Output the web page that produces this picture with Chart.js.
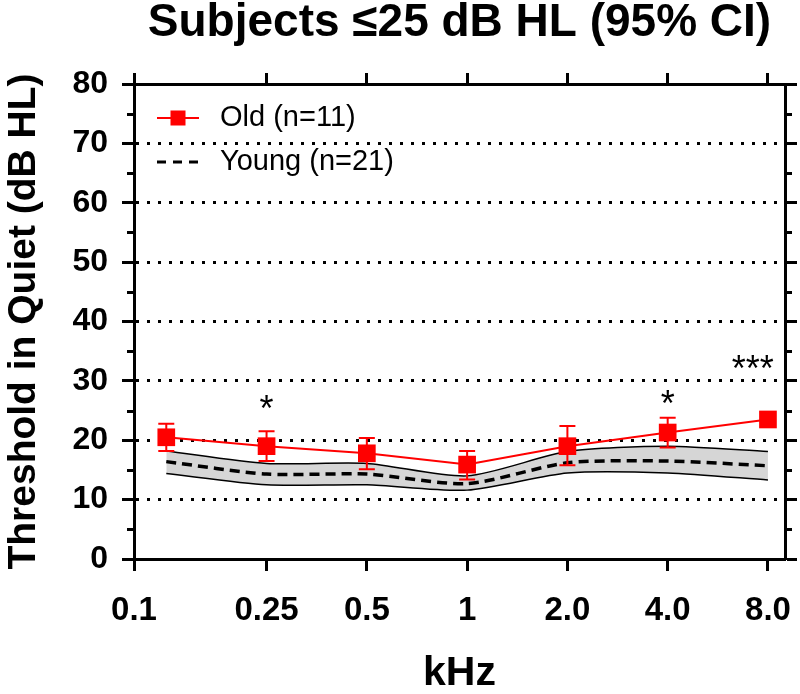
<!DOCTYPE html>
<html>
<head>
<meta charset="utf-8">
<script src="https://cdn.jsdelivr.net/npm/chart.js@4.4.0/dist/chart.umd.min.js"></script>
<style>
  html, body { margin: 0; padding: 0; background: #fff; }
</style>
</head>
<body>
<canvas id="chart" width="800" height="694"></canvas>
<script>
// audiogram values (dB HL)
var freqs = [0.125, 0.25, 0.5, 1, 2, 4, 8];
var oldMean = [20.5, 19.0, 17.8, 15.9, 19.0, 21.3, 23.5];
var oldLow = [18.2, 16.5, 15.1, 13.4, 15.8, 18.8, 22.4];
var oldHigh = [22.8, 21.5, 20.4, 18.2, 22.4, 23.8, 24.6];
var youngMean = [16.4, 14.3, 14.3, 12.7, 16.2, 16.5, 15.7];
var youngUpper = [18.2, 16.1, 16.1, 14.0, 18.1, 19.0, 18.1];
var youngLower = [14.4, 12.5, 12.5, 11.6, 14.5, 14.5, 13.3];

var xTicks = [0.1, 0.25, 0.5, 1, 2, 4, 8];
var xTickLabels = ['0.1', '0.25', '0.5', '1', '2.0', '4.0', '8.0'];

// significance marks
var sigFreqs = [0.25, 4, 7.2];
var sigLevels = [26.8, 27.6, 33.5];
var sigText = ['*', '*', '***'];

var FONT = "'Liberation Sans', Arial, sans-serif";
Chart.defaults.font.family = FONT;
Chart.defaults.color = '#000';

function pts(ys) {
  return freqs.map(function (f, i) { return { x: f, y: ys[i] }; });
}

function noPad(s) {
  s.paddingLeft = 0; s.paddingRight = 0; s.paddingTop = 0; s.paddingBottom = 0;
}

var errorBars = {
  id: 'errorBars',
  beforeDatasetDraw: function (chart, args) {
    if (args.index !== 0) return;
    var ctx = chart.ctx, xs = chart.scales.x, ys = chart.scales.y;
    ctx.save();
    ctx.strokeStyle = '#ff0000';
    ctx.lineWidth = 2;
    freqs.forEach(function (f, i) {
      var px = xs.getPixelForValue(f);
      var top = ys.getPixelForValue(oldHigh[i]);
      var bot = ys.getPixelForValue(oldLow[i]);
      ctx.beginPath();
      ctx.moveTo(px, top); ctx.lineTo(px, bot);
      ctx.moveTo(px - 8, top); ctx.lineTo(px + 8, top);
      ctx.moveTo(px - 8, bot); ctx.lineTo(px + 8, bot);
      ctx.stroke();
    });
    ctx.restore();
  }
};

var extras = {
  id: 'extras',
  afterDraw: function (chart) {
    var ctx = chart.ctx, a = chart.chartArea;
    var xs = chart.scales.x, ys = chart.scales.y;
    ctx.save();
    // minor ticks on both y axes
    ctx.strokeStyle = '#000';
    ctx.lineWidth = 3;
    for (var v = 5; v < 80; v += 10) {
      var py = Math.round(ys.getPixelForValue(v)) + 0.5;
      ctx.beginPath();
      ctx.moveTo(a.left - 7, py); ctx.lineTo(a.left, py);
      ctx.moveTo(a.right, py); ctx.lineTo(a.right + 7, py);
      ctx.stroke();
    }
    // significance asterisks
    ctx.fillStyle = '#000';
    ctx.font = '36px ' + FONT;
    ctx.textAlign = 'center';
    ctx.textBaseline = 'alphabetic';
    sigFreqs.forEach(function (f, i) {
      ctx.fillText(sigText[i], xs.getPixelForValue(f), ys.getPixelForValue(sigLevels[i]) + 21);
    });
    // legend
    var ds = chart.data.datasets;
    var lx = a.left + 23, tx = a.left + 86;
    var y1 = a.top + 34, y2 = a.top + 78;
    ctx.strokeStyle = ds[0].borderColor;
    ctx.lineWidth = 2;
    ctx.beginPath(); ctx.moveTo(lx, y1); ctx.lineTo(lx + 42, y1); ctx.stroke();
    ctx.fillStyle = ds[0].borderColor;
    ctx.fillRect(lx + 21 - 7.5, y1 - 7.5, 15, 15);
    ctx.strokeStyle = '#000';
    ctx.lineWidth = 3;
    ctx.setLineDash([9, 7]);
    ctx.beginPath(); ctx.moveTo(lx, y2); ctx.lineTo(lx + 42, y2); ctx.stroke();
    ctx.setLineDash([]);
    ctx.fillStyle = '#000';
    ctx.font = '29px ' + FONT;
    ctx.textAlign = 'left';
    ctx.textBaseline = 'middle';
    ctx.fillText(ds[0].label, tx, y1);
    ctx.fillText(ds[1].label, tx, y2);
    ctx.restore();
  }
};

new Chart(document.getElementById('chart'), {
  type: 'line',
  data: {
    datasets: [
      {
        label: 'Old (n=11)',
        data: pts(oldMean),
        borderColor: '#ff0000',
        backgroundColor: '#ff0000',
        borderWidth: 2,
        pointStyle: 'rect',
        pointRadius: 12.5,
        pointBorderWidth: 0,
        pointBackgroundColor: '#ff0000',
        fill: false,
        tension: 0
      },
      {
        label: 'Young (n=21)',
        data: pts(youngMean),
        borderColor: '#000',
        borderWidth: 3.5,
        borderDash: [10, 6],
        pointRadius: 0,
        fill: false,
        tension: 0.25
      },
      {
        label: 'Young upper 95% CI',
        data: pts(youngUpper),
        borderColor: '#000',
        borderWidth: 1.5,
        backgroundColor: '#d6d6d6',
        pointRadius: 0,
        fill: '+1',
        tension: 0.25
      },
      {
        label: 'Young lower 95% CI',
        data: pts(youngLower),
        borderColor: '#000',
        borderWidth: 1.5,
        pointRadius: 0,
        fill: false,
        tension: 0.25
      }
    ]
  },
  options: {
    responsive: false,
    devicePixelRatio: 1,
    animation: false,
    layout: { padding: 0 },
    plugins: {
      legend: { display: false },
      tooltip: { enabled: false },
      filler: { drawTime: 'beforeDatasetsDraw' },
      title: {
        display: true,
        fullSize: false,
        text: 'Subjects \u226425 dB HL (95% CI)',
        color: '#000',
        font: { size: 46, weight: 'bold', lineHeight: 1 },
        padding: 0
      }
    },
    scales: {
      x: {
        type: 'logarithmic',
        position: 'bottom',
        min: 0.1,
        max: 9,
        afterBuildTicks: function (s) { s.ticks = xTicks.map(function (v) { return { value: v }; }); },
        afterFit: function (s) { s.height = 135; noPad(s); },
        grid: { drawOnChartArea: false, drawTicks: true, tickLength: 12, tickWidth: 3, tickColor: '#000' },
        border: { color: '#000', width: 3 },
        ticks: {
          autoSkip: false, maxRotation: 0, padding: 20,
          font: { size: 33, weight: 'bold' },
          callback: function (v, i) { return xTickLabels[i]; }
        },
        title: { display: true, text: 'kHz', font: { size: 41, weight: 'bold', lineHeight: 1 }, padding: 0 }
      },
      x2: {
        type: 'logarithmic',
        position: 'top',
        min: 0.1,
        max: 9,
        afterBuildTicks: function (s) { s.ticks = xTicks.map(function (v) { return { value: v }; }); },
        afterFit: function (s) { s.height = 38; noPad(s); },
        grid: { drawOnChartArea: false, drawTicks: true, tickLength: 11, tickWidth: 3, tickColor: '#000' },
        border: { color: '#000', width: 3 },
        ticks: { display: false }
      },
      y: {
        min: 0,
        max: 80,
        afterFit: function (s) { s.width = 134; noPad(s); },
        grid: {
          color: function (c) { return (c.tick && (c.tick.value === 0 || c.tick.value === 80)) ? 'rgba(0,0,0,0)' : '#000'; },
          lineWidth: 3,
          drawTicks: true, tickLength: 12, tickWidth: 3, tickColor: '#000'
        },
        border: { color: '#000', width: 3, dash: [3, 8] },
        ticks: { stepSize: 10, padding: 14, font: { size: 32, weight: 'bold' } },
        title: {
          display: true, text: 'Threshold in Quiet (dB HL)',
          font: { size: 39, weight: 'bold', lineHeight: 1.2 }, padding: { top: 1, bottom: 0 }
        }
      },
      y2: {
        position: 'right',
        min: 0,
        max: 80,
        afterFit: function (s) { s.width = 15; noPad(s); },
        grid: { drawOnChartArea: false, drawTicks: true, tickLength: 12, tickWidth: 3, tickColor: '#000' },
        border: { color: '#000', width: 3 },
        ticks: { display: false, stepSize: 10 }
      }
    }
  },
  plugins: [errorBars, extras]
});
</script>
</body>
</html>
